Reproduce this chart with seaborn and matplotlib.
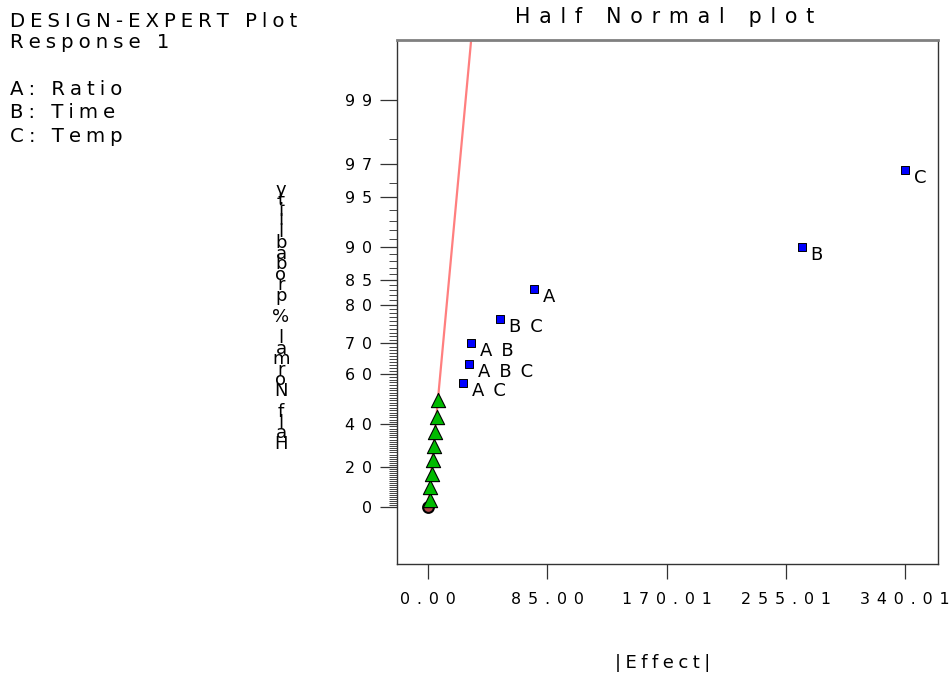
import math
from statistics import NormalDist

import numpy as np
import pandas as pd
import matplotlib
matplotlib.use("Agg")
import matplotlib.pyplot as plt
import seaborn as sns
from matplotlib.ticker import FixedLocator, NullFormatter

# ---- data -------------------------------------------------------------
error_effects = [1.1, 1.7, 2.6, 3.3, 4.1, 5.1, 6.2, 7.3]
error_probs = [3.3, 10.0, 16.7, 23.3, 30.0, 36.7, 43.3, 50.0]

term_names = ["AC", "ABC", "AB", "BC", "A", "B", "C"]
term_effects = [25.2, 29.4, 30.4, 51.3, 75.5, 266.2, 340.01]
term_probs = [56.7, 63.3, 70.0, 76.7, 83.3, 90.0, 96.7]

x_tick_values = [0.00, 85.00, 170.01, 255.01, 340.01]
x_tick_labels = ["0.00", "85.00", "170.01", "255.01", "340.01"]
y_tick_values = [0, 20, 40, 60, 70, 80, 85, 90, 95, 97, 99]

line_slope = 10.4  # |effect| per unit half-normal quantile

header_lines = ["DESIGN-EXPERT Plot", "Response 1"]
factor_lines = ["A: Ratio", "B: Time", "C: Temp"]
title_text = "Half Normal plot"
x_label = "|Effect|"
y_label = "Half Normal % probability"

# ---- half-normal probability scale ------------------------------------
_nd = NormalDist()


def hn_forward(p):
    p = np.asarray(p, dtype=float)
    q = np.clip(np.abs(p) / 100.0, 0.0, 0.9999999)
    z = np.array([_nd.inv_cdf(0.5 + v / 2.0) if np.isfinite(v) else np.nan
                  for v in q.ravel()]).reshape(q.shape)
    return np.sign(p) * z


def hn_inverse(z):
    z = np.asarray(z, dtype=float)
    return 100.0 * np.vectorize(math.erf, otypes=[float])(z / math.sqrt(2.0))


# letter-spaced strings (the plot software draws text widely tracked)
WIDE = "\u2002"            # en space
MID = "\u2004\u200a"       # three-per-em + hair
NARROW = "\u2004"          # three-per-em
SLIM = "\u2005"            # four-per-em


def spaced(s, gap=WIDE):
    return gap.join(s)


# ---- style --------------------------------------------------------------
sns.set_style("white")
plt.rcParams["font.family"] = ["DejaVu Sans"]
plt.rcParams["axes.unicode_minus"] = False
plt.rcParams["text.color"] = "black"
plt.rcParams["xtick.labelcolor"] = "black"
plt.rcParams["ytick.labelcolor"] = "black"

W, H = 949, 677
fig = plt.figure(figsize=(W / 100, H / 100), dpi=100)
ax = fig.add_axes([397 / W, 1 - 564 / H, (938 - 397) / W, (564 - 40) / H])

ax.set_yscale("function", functions=(hn_forward, hn_inverse))

err_df = pd.DataFrame({"effect": error_effects, "prob": error_probs})
term_df = pd.DataFrame({"term": term_names, "effect": term_effects,
                        "prob": term_probs})

# fitted line through the origin
z_line = np.linspace(0.0, 3.1, 120)
line_df = pd.DataFrame({"effect": line_slope * z_line,
                        "prob": hn_inverse(z_line)})
sns.lineplot(data=line_df, x="effect", y="prob", ax=ax, color="#ff7f7f",
             linewidth=1.6, estimator=None, sort=False, zorder=2)

# origin marker
sns.scatterplot(x=[0.0], y=[0.0], ax=ax, marker="o", s=60,
                color="#b04848", edgecolor="black", linewidth=1.5, zorder=3)

# error estimates
sns.scatterplot(data=err_df, x="effect", y="prob", ax=ax, marker="^", s=105,
                color="#00bb00", edgecolor="black", linewidth=0.8, zorder=4)

# model terms
sns.scatterplot(data=term_df, x="effect", y="prob", ax=ax, marker="s", s=38,
                color="#0000ff", edgecolor="black", linewidth=0.7, zorder=5)
for name, ex, pr in zip(term_names, term_effects, term_probs):
    ax.annotate(spaced(name, WIDE), (ex, pr), xytext=(9, -13),
                textcoords="offset pixels", ha="left", va="baseline",
                fontsize=13, color="black", zorder=6)

# ---- axes ---------------------------------------------------------------
ax.set_xlim(-22.1, 363.4)
ax.set_ylim(float(hn_inverse(-0.361)), float(hn_inverse(2.956)))

ax.xaxis.set_major_locator(FixedLocator(x_tick_values))
ax.set_xticklabels([spaced(t, MID) for t in x_tick_labels])
ax.yaxis.set_major_locator(FixedLocator(y_tick_values))
ax.set_yticklabels([spaced(str(v), MID) for v in y_tick_values])
minor_y = [v for v in range(1, 99) if v not in y_tick_values]
ax.yaxis.set_minor_locator(FixedLocator(minor_y))
ax.yaxis.set_minor_formatter(NullFormatter())

ax.tick_params(axis="x", which="major", direction="out", length=11,
               width=0.9, color="#333333", pad=9, labelsize=11.4,
               labelcolor="black", bottom=True)
ax.tick_params(axis="y", which="major", direction="out", length=12,
               width=0.9, color="#333333", pad=6, labelsize=11.4,
               labelcolor="black", left=True)
ax.tick_params(axis="y", which="minor", direction="out", length=6,
               width=0.7, color="#444444", left=True)
ax.set_xlabel("")
ax.set_ylabel("")

for side in ["left", "right", "bottom"]:
    ax.spines[side].set_color("#333333")
    ax.spines[side].set_linewidth(1.0)
ax.spines["top"].set_color("#808080")
ax.spines["top"].set_linewidth(2.0)
ax.grid(False)

# ---- text ---------------------------------------------------------------
fig.text(664.5 / W, 1 - 23.3 / H, spaced(title_text, MID), ha="center",
         va="baseline", fontsize=14.8, color="black")

for txt, base in zip(header_lines + factor_lines, [26.7, 48, 95, 118, 141.7]):
    fig.text(10 / W, 1 - base / H, spaced(txt, SLIM), ha="left",
             va="baseline", fontsize=14.2, color="black")

fig.text(663 / W, 1 - 668 / H, spaced(x_label, SLIM), ha="center",
         va="baseline", fontsize=13, color="black")

# stacked, upright characters running bottom-to-top
fig.text(281 / W, 1 - 317 / H, "\n".join(reversed(y_label)), ha="center",
         va="center", multialignment="center", fontsize=13,
         linespacing=0.47, color="black")

fig.savefig("out.png", dpi=100)
